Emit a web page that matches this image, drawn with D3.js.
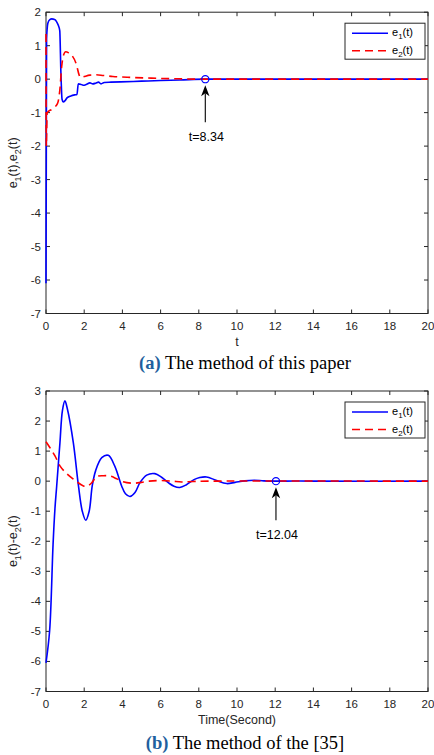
<!DOCTYPE html>
<html>
<head>
<meta charset="utf-8">
<script src="https://cdn.jsdelivr.net/npm/d3@7"></script>
<style>
  body { margin: 0; background: #fff; }
  svg { display: block; }
</style>
</head>
<body>
<script>
"use strict";

// ---- data ----
var xTicks = [0, 2, 4, 6, 8, 10, 12, 14, 16, 18, 20];
var yTicksA = [2, 1, 0, -1, -2, -3, -4, -5, -6, -7];
var yTicksB = [3, 2, 1, 0, -1, -2, -3, -4, -5, -6, -7];

// panel (a): [t, value]
var e1A = [[0, -6.1], [0.03, 1.2], [0.1, 1.68], [0.2, 1.78], [0.3, 1.8], [0.45, 1.78],
  [0.55, 1.72], [0.65, 1.6], [0.72, 1.45], [0.78, 0.2], [0.84, -0.6], [0.9, -0.68],
  [1.0, -0.64], [1.1, -0.56], [1.3, -0.5], [1.5, -0.47], [1.62, -0.46], [1.69, -0.14],
  [1.8, -0.15], [1.95, -0.18], [2.1, -0.16], [2.3, -0.11], [2.45, -0.14], [2.6, -0.12],
  [2.75, -0.09], [2.88, -0.14], [3.05, -0.1], [3.4, -0.09], [3.9, -0.08], [5.0, -0.06],
  [6.0, -0.04], [7.0, -0.025], [8.34, 0], [20, 0]];
var e2A = [[0, 1.35], [0.015, -2.0], [0.06, -1.0], [0.3, -0.9], [0.6, -0.73],
  [0.72, -0.35], [0.82, 0.37], [0.92, 0.72], [1.03, 0.82], [1.2, 0.78], [1.34, 0.72],
  [1.6, 0.42], [1.72, 0.15], [1.8, 0.05], [1.95, 0.07], [2.3, 0.12], [2.6, 0.13],
  [3.0, 0.11], [3.5, 0.08], [4.5, 0.05], [5.5, 0.03], [7.0, 0.01], [8.34, 0], [20, 0]];

// panel (b)
var e1B = [[0, -6.05], [0.19, -4.98], [0.37, -2.1], [0.47, -0.9], [0.56, -0.16],
  [0.73, 1.28], [0.86, 2.35], [0.99, 2.67], [1.12, 2.4], [1.43, 1.28], [1.7, -0.16],
  [1.9, -1.0], [2.08, -1.3], [2.26, -1.0], [2.42, -0.16], [2.6, 0.35], [2.92, 0.78],
  [3.26, 0.86], [3.6, 0.5], [3.96, -0.16], [4.16, -0.42], [4.4, -0.51], [4.66, -0.38],
  [4.92, -0.05], [5.27, 0.2], [5.7, 0.25], [6.05, 0.13], [6.4, -0.05], [6.7, -0.17],
  [7.0, -0.21], [7.35, -0.12], [7.75, 0.05], [8.05, 0.12], [8.4, 0.14], [8.9, 0.03],
  [9.46, -0.08], [9.9, -0.04], [10.4, 0.01], [10.9, 0.03], [11.4, 0.01], [12.04, 0],
  [13, 0.005], [14, 0], [20, 0]];
var e2B = [[0, 1.31], [0.2, 1.12], [0.47, 0.84], [0.73, 0.51], [0.99, 0.31],
  [1.43, 0.07], [1.96, -0.16], [2.15, -0.17], [2.4, -0.05], [2.65, 0.15], [3.0, 0.18],
  [3.35, 0.17], [3.7, 0.08], [4.04, -0.02], [4.56, -0.07], [5.0, -0.04], [5.4, 0.0],
  [6.0, 0.02], [6.6, 0.0], [7.1, -0.03], [7.7, -0.01], [8.5, 0.0], [20, 0]];

var markA = 8.34, markB = 12.04;

// ---- layout ----
var W = 434, H = 755;
var left = 46, right = 428;

var svg = d3.select("body").append("svg")
    .attr("width", W)
    .attr("height", H)
    .style("font-family", "'Liberation Sans', Arial, sans-serif");

var axisColor = "#262626";

function drawPanel(cfg) {
  var x = d3.scaleLinear().domain([0, 20]).range([left, right]);
  var y = d3.scaleLinear().domain(cfg.yDomain).range([cfg.bottom, cfg.top]);

  var g = svg.append("g");

  // box + inward ticks on all sides
  g.append("rect")
      .attr("x", left).attr("y", cfg.top)
      .attr("width", right - left).attr("height", cfg.bottom - cfg.top)
      .attr("fill", "none").attr("stroke", axisColor).attr("stroke-width", 1);

  var tl = 4;
  xTicks.forEach(function(t) {
    g.append("line").attr("x1", x(t)).attr("x2", x(t))
        .attr("y1", cfg.bottom).attr("y2", cfg.bottom - tl)
        .attr("stroke", axisColor);
    g.append("line").attr("x1", x(t)).attr("x2", x(t))
        .attr("y1", cfg.top).attr("y2", cfg.top + tl)
        .attr("stroke", axisColor);
    g.append("text").attr("x", x(t)).attr("y", cfg.bottom + 16)
        .attr("text-anchor", "middle").attr("font-size", 11.5)
        .attr("fill", axisColor).text(t);
  });
  cfg.yTicks.forEach(function(v) {
    g.append("line").attr("x1", left).attr("x2", left + tl)
        .attr("y1", y(v)).attr("y2", y(v)).attr("stroke", axisColor);
    g.append("line").attr("x1", right).attr("x2", right - tl)
        .attr("y1", y(v)).attr("y2", y(v)).attr("stroke", axisColor);
    g.append("text").attr("x", left - 5).attr("y", y(v) + 4)
        .attr("text-anchor", "end").attr("font-size", 11.5)
        .attr("fill", axisColor).text(v);
  });

  // lines
  var line = d3.line()
      .x(function(d) { return x(d[0]); })
      .y(function(d) { return y(d[1]); })
      .curve(cfg.curve);

  g.append("path").datum(cfg.e1)
      .attr("d", line).attr("fill", "none")
      .attr("stroke", "#0000ff").attr("stroke-width", 1.6);
  g.append("path").datum(cfg.e2)
      .attr("d", line).attr("fill", "none")
      .attr("stroke", "#ff0000").attr("stroke-width", 1.6)
      .attr("stroke-dasharray", "8,5");

  // marker + arrow + label
  var mx = x(cfg.mark), my = y(0);
  g.append("circle").attr("cx", mx).attr("cy", my).attr("r", 3.6)
      .attr("fill", "none").attr("stroke", "#0000ff").attr("stroke-width", 1.2);
  var tip = my + 6, tail = my + cfg.arrowLen;
  g.append("line").attr("x1", mx).attr("x2", mx)
      .attr("y1", tail).attr("y2", tip + 8)
      .attr("stroke", "#000").attr("stroke-width", 1.1);
  g.append("path")
      .attr("d", "M" + mx + "," + tip + " L" + (mx - 4.2) + "," + (tip + 11) +
                 " L" + mx + "," + (tip + 8) + " L" + (mx + 4.2) + "," + (tip + 11) + " Z")
      .attr("fill", "#000");
  g.append("text").attr("x", mx + 1).attr("y", tail + 19)
      .attr("text-anchor", "middle").attr("font-size", 12.5)
      .attr("fill", "#000").text("t=" + cfg.mark);

  // legend
  var lx = 345, ly = cfg.top + 11, lw = 80, lh = 36;
  g.append("rect").attr("x", lx).attr("y", ly).attr("width", lw).attr("height", lh)
      .attr("fill", "#fff").attr("stroke", axisColor).attr("stroke-width", 1);
  [["#0000ff", null, "1"], ["#ff0000", "8,5", "2"]].forEach(function(it, i) {
    var yy = ly + 10 + i * 17.5;
    g.append("line").attr("x1", lx + 7).attr("x2", lx + 43)
        .attr("y1", yy).attr("y2", yy)
        .attr("stroke", it[0]).attr("stroke-width", 1.6)
        .attr("stroke-dasharray", it[1]);
    var tx = g.append("text").attr("x", lx + 47).attr("y", yy + 3)
        .attr("font-size", 11).attr("fill", "#000");
    tx.append("tspan").text("e");
    tx.append("tspan").attr("dy", 3).attr("font-size", 8).text(it[2]);
    tx.append("tspan").attr("dy", -3).text("(t)");
  });

  // axis labels
  g.append("text").attr("x", (left + right) / 2).attr("y", cfg.bottom + 32)
      .attr("text-anchor", "middle").attr("font-size", 12.5).attr("fill", axisColor)
      .text(cfg.xLabel);

  var cy = (cfg.top + cfg.bottom) / 2;
  var yl = g.append("text")
      .attr("transform", "translate(17," + cy + ") rotate(-90)")
      .attr("text-anchor", "middle").attr("font-size", 12.5).attr("fill", axisColor);
  yl.append("tspan").text("e");
  yl.append("tspan").attr("dy", 3.5).attr("font-size", 9).text("1");
  yl.append("tspan").attr("dy", -3.5).text("(t)" + cfg.sep + "e");
  yl.append("tspan").attr("dy", 3.5).attr("font-size", 9).text("2");
  yl.append("tspan").attr("dy", -3.5).text("(t)");

  // caption
  var cap = svg.append("text").attr("x", (left + right) / 2 + 8).attr("y", cfg.capY)
      .attr("text-anchor", "middle")
      .style("font-family", "'Liberation Serif', 'Times New Roman', serif")
      .attr("font-size", 18.5).attr("fill", "#000");
  cap.append("tspan").attr("font-weight", "bold").attr("fill", "#1f5f9e").text(cfg.capTag);
  cap.append("tspan").text(" " + cfg.capText);
}

drawPanel({
  top: 12.2, bottom: 313.5, yDomain: [-7, 2], yTicks: yTicksA,
  e1: e1A, e2: e2A, mark: markA, arrowLen: 43, curve: d3.curveMonotoneX,
  xLabel: "t", sep: ",", capY: 369, capTag: "(a)", capText: "The method of this paper"
});

drawPanel({
  top: 391, bottom: 691.5, yDomain: [-7, 3], yTicks: yTicksB,
  e1: e1B, e2: e2B, mark: markB, arrowLen: 39, curve: d3.curveCatmullRom.alpha(0.5),
  xLabel: "Time(Second)", sep: "-", capY: 749, capTag: "(b)", capText: "The method of the [35]"
});
</script>
</body>
</html>
